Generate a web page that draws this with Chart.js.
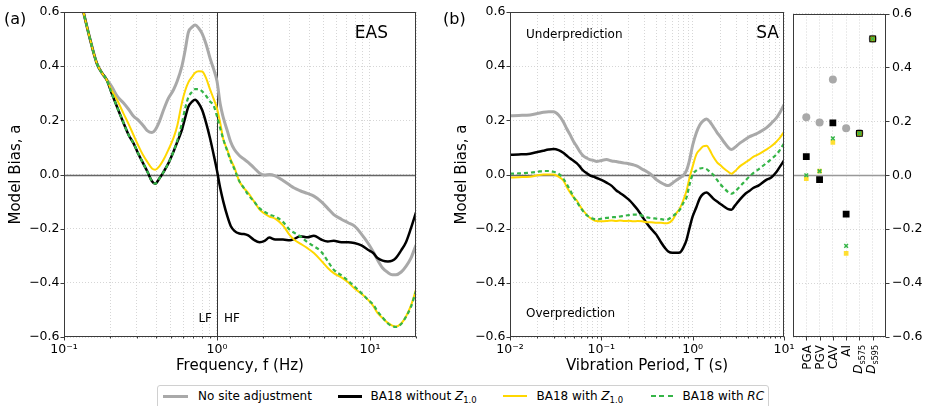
<!DOCTYPE html>
<html lang="en">
<head>
<meta charset="utf-8">
<title>Model bias - EAS, SA and intensity measures</title>
<script src="https://cdn.jsdelivr.net/npm/chart.js@4.4.1/dist/chart.umd.min.js"></script>
<style>
  html, body { margin: 0; padding: 0; background: #fff; }
  #figure { position: relative; width: 928px; height: 406px; overflow: hidden; font-family: "DejaVu Sans", sans-serif; }
  #figure canvas { position: absolute; left: 0; top: 0; }
  .legend { position: absolute; left: 156.5px; top: 385px; width: 612px; height: 40px; box-sizing: border-box;
            border: 1px solid #d0d0d0; border-radius: 3px; background: #fff; }
  .leg-line { position: absolute; top: 8.5px; height: 3px; }
  .leg-text { position: absolute; top: 2.5px; font-size: 12px; line-height: 14px; white-space: nowrap; color: #000; }
  .leg-text sub { font-size: 8.5px; line-height: 0; vertical-align: -2.5px; }
</style>
</head>
<body>
<div id="figure">
  <canvas id="chartEAS" width="928" height="406"></canvas>
  <canvas id="chartSA" width="928" height="406"></canvas>
  <canvas id="chartIM" width="928" height="406"></canvas>
  <div class="legend">
    <div class="leg-line" style="left:5px;width:25px;background:#a9a9a9"></div>
    <div class="leg-text" style="left:40.5px">No site adjustment</div>
    <div class="leg-line" style="left:180px;width:24px;background:#000"></div>
    <div class="leg-text" style="left:213px">BA18 without <i>Z</i><sub>1.0</sub></div>
    <div class="leg-line" style="left:345px;width:24px;height:2px;background:#ffd700"></div>
    <div class="leg-text" style="left:379px">BA18 with <i>Z</i><sub>1.0</sub></div>
    <div class="leg-line" style="left:493px;width:22px;height:2.5px;background:repeating-linear-gradient(to right,#35b547 0 5px,transparent 5px 8.3px)"></div>
    <div class="leg-text" style="left:525px">BA18 with <i>RC</i></div>
  </div>
</div>
<script>
// ---- values ----

// (a) EAS, model bias against frequency
const freqHz = [0.1, 0.12, 0.134, 0.148, 0.164, 0.177, 0.19, 0.205, 0.222, 0.245, 0.265, 0.285, 0.307, 0.33, 0.35,
  0.376, 0.395, 0.42, 0.448, 0.48, 0.52, 0.55, 0.59, 0.62, 0.65, 0.69, 0.72, 0.76, 0.8, 0.85, 0.9, 0.95, 1.0, 1.05,
  1.1, 1.17, 1.23, 1.3, 1.4, 1.5, 1.6, 1.75, 1.9, 2.05, 2.2, 2.4, 2.7, 3.0, 3.2, 3.5, 3.9, 4.3, 4.8, 5.3, 5.8, 6.5,
  7.2, 7.9, 8.8, 9.7, 10.5, 11.2, 12.1, 13.1, 14.0, 14.8, 16.0, 17.2, 18.5, 20.0];
const easNoSite = [0.86, 0.72, 0.60, 0.50, 0.41, 0.375, 0.35, 0.325, 0.29, 0.264, 0.24, 0.215, 0.20, 0.18, 0.162,
  0.155, 0.165, 0.195, 0.239, 0.28, 0.313, 0.345, 0.40, 0.46, 0.525, 0.545, 0.552, 0.54, 0.52, 0.48, 0.43, 0.39, 0.345,
  0.26, 0.21, 0.16, 0.12, 0.092, 0.07, 0.057, 0.045, 0.024, 0.005, -0.002, 0.0, -0.005, -0.022, -0.04, -0.05, -0.06,
  -0.07, -0.08, -0.1, -0.125, -0.148, -0.165, -0.178, -0.19, -0.22, -0.253, -0.285, -0.315, -0.345, -0.362, -0.37,
  -0.37, -0.36, -0.339, -0.31, -0.26];
const easNoZ1 = [0.86, 0.72, 0.60, 0.50, 0.41, 0.375, 0.35, 0.30, 0.25, 0.19, 0.145, 0.115, 0.075, 0.04, 0.012,
  -0.025, -0.034, -0.015, 0.01, 0.04, 0.085, 0.12, 0.165, 0.21, 0.25, 0.27, 0.276, 0.262, 0.238, 0.19, 0.135, 0.075,
  0.015, -0.05, -0.10, -0.155, -0.19, -0.208, -0.218, -0.22, -0.225, -0.242, -0.25, -0.245, -0.233, -0.24, -0.24,
  -0.243, -0.238, -0.228, -0.232, -0.226, -0.24, -0.247, -0.245, -0.25, -0.25, -0.253, -0.262, -0.278, -0.29, -0.308,
  -0.318, -0.321, -0.318, -0.308, -0.28, -0.25, -0.2, -0.14];
const easWithZ1 = [0.86, 0.72, 0.60, 0.50, 0.41, 0.375, 0.35, 0.31, 0.276, 0.225, 0.185, 0.145, 0.105, 0.07, 0.047,
  0.022, 0.018, 0.03, 0.055, 0.09, 0.135, 0.18, 0.265, 0.31, 0.34, 0.362, 0.376, 0.381, 0.38, 0.355, 0.315, 0.28, 0.245,
  0.19, 0.13, 0.09, 0.055, 0.025, -0.025, -0.05, -0.068, -0.1, -0.13, -0.145, -0.155, -0.163, -0.188, -0.225, -0.241,
  -0.255, -0.272, -0.29, -0.318, -0.345, -0.364, -0.38, -0.398, -0.42, -0.44, -0.462, -0.485, -0.511, -0.53, -0.548,
  -0.558, -0.561, -0.55, -0.524, -0.485, -0.425];
const easWithRC = [0.86, 0.72, 0.60, 0.50, 0.41, 0.375, 0.35, 0.30, 0.25, 0.19, 0.145, 0.115, 0.075, 0.04, 0.012,
  -0.025, -0.034, -0.015, 0.01, 0.04, 0.085, 0.125, 0.19, 0.245, 0.285, 0.306, 0.315, 0.315, 0.307, 0.29, 0.27, 0.255,
  0.215, 0.17, 0.13, 0.085, 0.05, 0.02, -0.025, -0.05, -0.075, -0.1, -0.125, -0.138, -0.148, -0.155, -0.175, -0.205,
  -0.215, -0.228, -0.25, -0.265, -0.285, -0.32, -0.352, -0.372, -0.392, -0.413, -0.438, -0.462, -0.48, -0.505, -0.528,
  -0.55, -0.56, -0.563, -0.552, -0.525, -0.49, -0.43];

// (b) SA, model bias against vibration period
const periodS = [0.01, 0.0125, 0.0166, 0.02, 0.0232, 0.0265, 0.03, 0.034, 0.0383, 0.0417, 0.0453, 0.05, 0.0537,
  0.058, 0.063, 0.069, 0.075, 0.082, 0.089, 0.1, 0.114, 0.13, 0.145, 0.16, 0.18, 0.2, 0.223, 0.25, 0.28, 0.313, 0.35,
  0.4, 0.45, 0.5, 0.54, 0.6, 0.667, 0.724, 0.79, 0.857, 0.92, 1.0, 1.1, 1.2, 1.3, 1.42, 1.54, 1.67, 1.85, 2.0, 2.2,
  2.45, 2.66, 2.9, 3.28, 3.8, 4.2, 4.6, 5.3, 6.4, 7.3, 8.3, 9.0, 10.0];
const saNoSite = [0.217, 0.218, 0.22, 0.225, 0.23, 0.232, 0.232, 0.22, 0.195, 0.17, 0.148, 0.12, 0.104, 0.085, 0.07,
  0.061, 0.055, 0.052, 0.048, 0.052, 0.055, 0.05, 0.048, 0.045, 0.042, 0.04, 0.036, 0.03, 0.02, 0.011, 0.0, -0.019,
  -0.03, -0.038, -0.041, -0.032, -0.02, -0.012, -0.003, 0.015, 0.05, 0.108, 0.155, 0.184, 0.198, 0.205, 0.195, 0.178,
  0.155, 0.14, 0.12, 0.1, 0.092, 0.1, 0.116, 0.13, 0.14, 0.145, 0.155, 0.172, 0.19, 0.21, 0.228, 0.258];
const saNoZ1 = [0.073, 0.074, 0.077, 0.083, 0.088, 0.092, 0.094, 0.09, 0.08, 0.07, 0.06, 0.05, 0.042, 0.03, 0.015,
  0.005, -0.003, -0.008, -0.013, -0.02, -0.03, -0.042, -0.058, -0.068, -0.08, -0.093, -0.11, -0.13, -0.155, -0.179,
  -0.2, -0.222, -0.25, -0.272, -0.284, -0.289, -0.289, -0.288, -0.27, -0.241, -0.2, -0.155, -0.12, -0.087, -0.072,
  -0.066, -0.075, -0.088, -0.1, -0.108, -0.118, -0.128, -0.13, -0.115, -0.093, -0.07, -0.06, -0.05, -0.04, -0.02,
  -0.01, 0.01, 0.028, 0.052];
const saWithZ1 = [-0.011, -0.01, -0.008, -0.003, 0.0, 0.0, 0.0, -0.008, -0.022, -0.045, -0.065, -0.085, -0.095,
  -0.115, -0.132, -0.148, -0.16, -0.168, -0.172, -0.173, -0.172, -0.17, -0.172, -0.17, -0.172, -0.171, -0.173, -0.172,
  -0.173, -0.176, -0.176, -0.178, -0.178, -0.18, -0.179, -0.168, -0.142, -0.125, -0.095, -0.06, -0.015, 0.03, 0.075,
  0.092, 0.104, 0.106, 0.09, 0.067, 0.045, 0.035, 0.022, 0.01, 0.003, 0.012, 0.03, 0.045, 0.055, 0.065, 0.075, 0.092,
  0.105, 0.122, 0.135, 0.158];
const saWithRC = [0.003, 0.004, 0.007, 0.01, 0.013, 0.013, 0.01, 0.003, -0.015, -0.035, -0.056, -0.085, -0.1, -0.118,
  -0.135, -0.15, -0.158, -0.164, -0.166, -0.163, -0.16, -0.158, -0.157, -0.155, -0.152, -0.15, -0.148, -0.148, -0.152,
  -0.158, -0.161, -0.163, -0.165, -0.167, -0.165, -0.155, -0.142, -0.13, -0.105, -0.085, -0.04, 0.0, 0.015, 0.022,
  0.024, 0.02, 0.01, 0.0, -0.02, -0.035, -0.05, -0.065, -0.071, -0.063, -0.045, -0.022, -0.007, 0.005, 0.02, 0.042,
  0.058, 0.075, 0.09, 0.115];

// (c) scalar intensity measures
const imNames = ['PGA', 'PGV', 'CAV', 'AI', 'D_s575', 'D_s595'];
const imNoSite = [0.215, 0.196, 0.355, 0.174, 0.157, 0.506];
const imNoZ1 = [0.069, -0.016, 0.194, -0.144, 0.155, 0.506];
const imWithZ1 = [-0.013, 0.015, 0.122, -0.29, 0.155, 0.506];
const imWithRC = [0.0, 0.015, 0.137, -0.262, 0.155, 0.506];

// axis ticks
const yTickValues = [-0.6, -0.4, -0.2, 0, 0.2, 0.4, 0.6];
const freqDecades = [0.1, 1, 10];
const freqDecadeLabels = ['10\u207B\u00B9', '10\u2070', '10\u00B9'];
const periodDecades = [0.01, 0.1, 1, 10];
const periodDecadeLabels = ['10\u207B\u00B2', '10\u207B\u00B9', '10\u2070', '10\u00B9'];

document.addEventListener("DOMContentLoaded", function () {
  Chart.defaults.font.family = '"DejaVu Sans", sans-serif';
  Chart.defaults.font.size = 12.5;
  Chart.defaults.color = '#000';

  const GRID = '#cccccc';
  const FRAME = '#3a3a3a';
  const FONT = '"DejaVu Sans", sans-serif';

  // line styles shared by the three panels
  const lineStyles = {
    noSite: { borderColor: '#a9a9a9', borderWidth: 3, order: 4 },
    noZ1: { borderColor: '#000000', borderWidth: 2.5, order: 3 },
    withZ1: { borderColor: '#ffd700', borderWidth: 2, order: 2 },
    withRC: { borderColor: '#35b547', borderWidth: 2.2, borderDash: [4, 3], order: 1 },
  };
  const pointStyles = {
    noSite: { pointStyle: 'circle', pointRadius: 4, backgroundColor: '#a9a9a9', borderWidth: 0, order: 4 },
    noZ1: { pointStyle: 'rect', pointRadius: 4.8, backgroundColor: '#000000', borderWidth: 0, order: 3 },
    withZ1: { pointStyle: 'rect', pointRadius: 3.3, backgroundColor: 'rgba(255,215,0,0.8)', borderWidth: 0, order: 2 },
    withRC: { pointStyle: 'crossRot', pointRadius: 2.6, borderColor: '#35b547', borderWidth: 1.5, order: 1 },
  };

  function lineDataset(xs, ys, style) {
    return Object.assign({
      data: xs.map((x, i) => ({ x: x, y: ys[i] })),
      pointRadius: 0,
      fill: false,
      clip: 0,
      cubicInterpolationMode: 'monotone',
    }, style);
  }

  function pointDataset(values, style) {
    return Object.assign({
      data: values.map((v, i) => ({ x: i, y: v })),
      showLine: false,
      borderColor: style.backgroundColor,
    }, style);
  }

  function formatBias(v) {
    if (Math.abs(v) < 1e-9) return '0.0';
    return v.toFixed(1).replace('-', '\u2212');
  }

  // major ticks on each decade, minor ticks at 2..9
  function logTicks(decades, min, max) {
    const ticks = [];
    decades.forEach(d => {
      for (let m = 1; m <= 9; m++) {
        const v = m * d;
        if (v >= min * 0.999 && v <= max * 1.001) ticks.push({ value: v, major: m === 1 });
      }
    });
    return ticks;
  }

  function biasAxis(position, width, withTitle) {
    return {
      type: 'linear', position: position, min: -0.6, max: 0.6,
      afterBuildTicks: scale => { scale.ticks = yTickValues.map(v => ({ value: v })); },
      afterFit: scale => { scale.width = width; },
      grid: { color: GRID, lineWidth: 0.8, drawTicks: false },
      border: { display: false, dash: [1, 2] },
      ticks: { padding: position === 'right' ? 6 : 4.5, callback: v => formatBias(v) },
      title: { display: withTitle, text: 'Model Bias, a', font: { size: 15 }, padding: { top: 7, bottom: 0 } },
    };
  }

  function logAxis(min, max, decades, labels, title) {
    return {
      type: 'logarithmic', position: 'bottom', min: min, max: max,
      afterBuildTicks: scale => { scale.ticks = logTicks(decades, min, max); },
      afterFit: scale => { scale.height = 69; },
      grid: { color: GRID, lineWidth: 0.8, drawTicks: false },
      border: { display: false, dash: [1, 2] },
      ticks: {
        autoSkip: false, maxRotation: 0, minRotation: 0, padding: 5,
        callback: function (value) {
          const i = decades.findIndex(d => Math.abs(d - value) < d * 1e-6);
          return i >= 0 ? labels[i] : '';
        },
      },
      title: { display: true, text: title, font: { size: 15 }, padding: { top: 0, bottom: 31 } },
    };
  }

  // zero line, 1 Hz line, frame, tick marks and panel texts
  const panelExtras = {
    id: 'panelExtras',
    beforeDatasetsDraw(chart, args, opts) {
      const { ctx, chartArea: a, scales } = chart;
      ctx.save();
      const y0 = Math.round(scales.y.getPixelForValue(0)) + 0.5;
      ctx.strokeStyle = opts.zeroColor;
      ctx.lineWidth = 1.3;
      ctx.beginPath(); ctx.moveTo(a.left, y0); ctx.lineTo(a.right, y0); ctx.stroke();
      (opts.vLines || []).forEach(v => {
        const px = Math.round(scales.x.getPixelForValue(v)) + 0.5;
        ctx.strokeStyle = '#333';
        ctx.lineWidth = 1;
        ctx.beginPath(); ctx.moveTo(px, a.top); ctx.lineTo(px, a.bottom); ctx.stroke();
      });
      ctx.restore();
    },
    afterDraw(chart, args, opts) {
      const { ctx, chartArea: a } = chart;
      ctx.save();
      ctx.strokeStyle = FRAME;
      ctx.lineWidth = 1;
      const l = Math.round(a.left) + 0.5, t = Math.round(a.top) + 0.5;
      const r = Math.round(a.right) - 0.5, b = Math.round(a.bottom) - 0.5;
      ctx.strokeRect(l, t, r - l, b - t);

      Object.values(chart.scales).forEach(scale => {
        scale.ticks.forEach(tick => {
          const len = tick.major === false ? 2 : 4;
          const p = Math.round(scale.getPixelForValue(tick.value)) + 0.5;
          ctx.beginPath();
          if (scale.position === 'bottom') { ctx.moveTo(p, b); ctx.lineTo(p, b + len); }
          else if (scale.position === 'left') { ctx.moveTo(l, p); ctx.lineTo(l - len, p); }
          else { ctx.moveTo(r, p); ctx.lineTo(r + len, p); }
          ctx.stroke();
        });
      });

      ctx.fillStyle = '#000';
      (opts.texts || []).forEach(txt => {
        ctx.font = txt.size + 'px ' + FONT;
        ctx.textAlign = txt.align || 'left';
        ctx.textBaseline = 'middle';
        ctx.fillText(txt.text, txt.x, txt.y);
      });

      // rotated category names, D with subscript
      if (opts.categories) {
        const xs = chart.scales.x;
        opts.categories.forEach((name, i) => {
          const parts = name.split('_');
          const px = xs.getPixelForValue(i);
          const mainFont = (parts[1] ? 'italic ' : '') + '12px ' + FONT;
          const subFont = '8px ' + FONT;
          ctx.save();
          ctx.translate(px, a.bottom + 8);
          ctx.rotate(-Math.PI / 2);
          ctx.textAlign = 'left';
          ctx.textBaseline = 'alphabetic';
          ctx.font = mainFont;
          const w1 = ctx.measureText(parts[0]).width;
          let w2 = 0;
          if (parts[1]) { ctx.font = subFont; w2 = ctx.measureText(parts[1]).width; }
          const x0 = -(w1 + w2);
          const base = parts[1] ? 2.5 : 4.3;
          ctx.font = mainFont;
          ctx.fillText(parts[0], x0, base);
          if (parts[1]) { ctx.font = subFont; ctx.fillText(parts[1], x0 + w1, base + 3); }
          ctx.restore();
        });
      }
      ctx.restore();
    },
  };

  const common = {
    responsive: false,
    animation: false,
    events: [],
  };

  // (a) EAS
  new Chart(document.getElementById('chartEAS'), {
    type: 'line',
    data: {
      datasets: [
        lineDataset(freqHz, easNoSite, lineStyles.noSite),
        lineDataset(freqHz, easNoZ1, lineStyles.noZ1),
        lineDataset(freqHz, easWithZ1, lineStyles.withZ1),
        lineDataset(freqHz, easWithRC, lineStyles.withRC),
      ],
    },
    options: Object.assign({}, common, {
      layout: { padding: { left: 0, top: 12, right: 512, bottom: 0 }, autoPadding: false },
      plugins: {
        legend: { display: false },
        tooltip: { enabled: false },
        panelExtras: {
          zeroColor: '#666',
          vLines: [1],
          texts: [
            { text: '(a)', x: 4, y: 20, size: 16 },
            { text: 'EAS', x: 388, y: 33.5, size: 17, align: 'right' },
            { text: 'LF', x: 212, y: 319, size: 12, align: 'right' },
            { text: 'HF', x: 224, y: 319, size: 12 },
          ],
        },
      },
      scales: {
        x: logAxis(0.1, 20, freqDecades, freqDecadeLabels, 'Frequency, f (Hz)'),
        y: biasAxis('left', 64, true),
      },
    }),
    plugins: [panelExtras],
  });

  // (b) SA
  new Chart(document.getElementById('chartSA'), {
    type: 'line',
    data: {
      datasets: [
        lineDataset(periodS, saNoSite, lineStyles.noSite),
        lineDataset(periodS, saNoZ1, lineStyles.noZ1),
        lineDataset(periodS, saWithZ1, lineStyles.withZ1),
        lineDataset(periodS, saWithRC, lineStyles.withRC),
      ],
    },
    options: Object.assign({}, common, {
      layout: { padding: { left: 446, top: 12, right: 144, bottom: 0 }, autoPadding: false },
      plugins: {
        legend: { display: false },
        tooltip: { enabled: false },
        panelExtras: {
          zeroColor: '#666',
          texts: [
            { text: '(b)', x: 443, y: 20, size: 16 },
            { text: 'SA', x: 779, y: 34, size: 17, align: 'right' },
            { text: 'Underprediction', x: 526, y: 35, size: 12 },
            { text: 'Overprediction', x: 526, y: 314, size: 12 },
          ],
        },
      },
      scales: {
        x: logAxis(0.01, 10, periodDecades, periodDecadeLabels, 'Vibration Period, T (s)'),
        y: biasAxis('left', 64, true),
      },
    }),
    plugins: [panelExtras],
  });

  // (c) intensity measures
  new Chart(document.getElementById('chartIM'), {
    type: 'scatter',
    data: {
      datasets: [
        pointDataset(imNoSite, pointStyles.noSite),
        pointDataset(imNoZ1, pointStyles.noZ1),
        pointDataset(imWithZ1, pointStyles.withZ1),
        pointDataset(imWithRC, pointStyles.withRC),
      ],
    },
    options: Object.assign({}, common, {
      layout: { padding: { left: 793, top: 12, right: 0, bottom: 0 }, autoPadding: false },
      plugins: {
        legend: { display: false },
        tooltip: { enabled: false },
        panelExtras: { zeroColor: '#999', categories: imNames },
      },
      scales: {
        x: {
          type: 'linear', position: 'bottom', min: -1, max: imNames.length,
          afterBuildTicks: scale => { scale.ticks = imNames.map((n, i) => ({ value: i })); },
          afterFit: scale => { scale.height = 69; },
          grid: { color: GRID, lineWidth: 0.8, drawTicks: false },
          border: { display: false, dash: [1, 2] },
          ticks: { display: false },
        },
        y: biasAxis('right', 42, false),
      },
    }),
    plugins: [panelExtras],
  });
});
</script>
</body>
</html>
